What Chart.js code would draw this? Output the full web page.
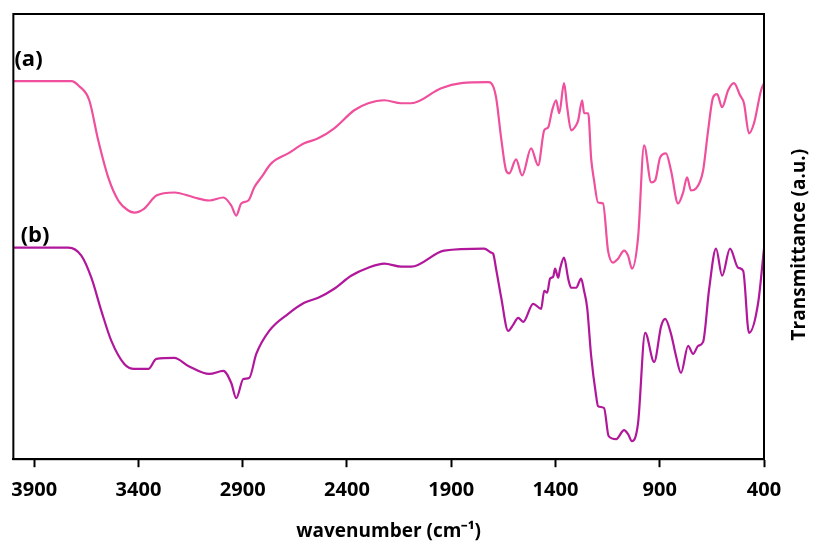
<!DOCTYPE html>
<html>
<head>
<meta charset="utf-8">
<script src="https://cdn.jsdelivr.net/npm/chart.js@4/dist/chart.umd.min.js"></script>
<style>
  html, body { margin: 0; padding: 0; background: #fff; }
  canvas { display: block; }
</style>
</head>
<body>
<canvas id="canvas" width="816" height="546"></canvas>
<script>
// FTIR spectra, wavenumber (cm-1) vs transmittance (a.u.)
const xTicks = [3900, 3400, 2900, 2400, 1900, 1400, 900, 400];

// spectrum (a)
const waveA = [4000, 3722, 3684, 3636, 3593, 3545, 3497, 3449, 3420, 3372, 3314, 3228, 3132, 3060, 2993, 2955, 2931, 2907, 2873, 2845, 2811, 2763, 2682, 2605, 2538, 2461, 2365, 2298, 2221, 2140, 2092, 1948, 1852, 1723, 1708, 1685, 1661, 1637, 1622, 1589, 1560, 1517, 1483, 1454, 1435, 1416, 1397, 1382, 1359, 1344, 1325, 1301, 1291, 1272, 1263, 1243, 1229, 1215, 1196, 1172, 1148, 1124, 1100, 1071, 1052, 1033, 1004, 975, 941, 922, 898, 870, 846, 812, 788, 769, 750, 726, 692, 668, 644, 625, 601, 572, 544, 515, 496, 472, 448, 414, 400];
const transA = [377, 377, 372, 358, 318, 281, 258, 248, 246, 250, 263, 266, 261, 258, 261, 253, 243, 255, 258, 271, 281, 295, 305, 315, 320, 330, 348, 355, 358, 355, 355, 370, 375, 376, 375, 361, 321, 288, 285, 299, 283, 310, 293, 328, 331, 348, 358, 345, 375, 351, 328, 333, 338, 358, 345, 345, 300, 278, 256, 255, 208, 196, 200, 208, 203, 190, 221, 313, 276, 278, 301, 305, 288, 255, 266, 281, 268, 270, 288, 328, 361, 364, 351, 368, 375, 363, 355, 325, 335, 368, 375];

// spectrum (b)
const waveB = [4000, 3736, 3674, 3626, 3578, 3530, 3468, 3420, 3353, 3314, 3228, 3161, 3060, 2993, 2955, 2931, 2897, 2869, 2835, 2773, 2682, 2605, 2538, 2461, 2380, 2298, 2221, 2140, 2092, 1934, 1742, 1708, 1699, 1685, 1661, 1627, 1603, 1579, 1555, 1507, 1469, 1454, 1440, 1426, 1411, 1402, 1387, 1378, 1359, 1339, 1325, 1301, 1277, 1263, 1248, 1229, 1205, 1196, 1167, 1145, 1109, 1071, 1052, 1033, 1004, 970, 927, 893, 874, 846, 822, 798, 764, 740, 716, 692, 663, 630, 601, 563, 524, 500, 472, 428, 400];
const transB = [211, 211, 203, 181, 148, 118, 95, 90, 90, 100, 101, 93, 85, 88, 76, 61, 80, 81, 105, 128, 145, 156, 161, 170, 183, 191, 195, 192, 192, 208, 210, 206, 205, 190, 162, 128, 134, 141, 137, 155, 150, 168, 166, 180, 182, 190, 181, 190, 201, 180, 171, 171, 180, 168, 151, 103, 63, 53, 51, 23, 20, 29, 25, 18, 36, 126, 97, 133, 140, 125, 103, 86, 113, 105, 113, 117, 170, 210, 183, 210, 191, 188, 126, 156, 210];

const seriesLabels = ['(a)', '(b)'];
const labelAt = [[3995, 398], [3965, 223]];

function toPoints(xs, ys) {
  return xs.map(function(x, i){ return { x: x, y: ys[i] }; });
}

const frame = {
  id: 'frame',
  afterDatasetsDraw: function(chart) {
    const ctx = chart.ctx;
    const a = chart.chartArea;
    ctx.save();
    ctx.strokeStyle = '#000';
    ctx.lineWidth = 2;
    ctx.strokeRect(a.left, a.top, a.right - a.left, a.bottom - a.top);
    // curve labels
    ctx.fillStyle = '#000';
    ctx.font = 'bold 22px "Open Sans", sans-serif';
    ctx.textBaseline = 'middle';
    ctx.textAlign = 'left';
    seriesLabels.forEach(function(t, i){
      const px = chart.scales.x.getPixelForValue(labelAt[i][0]);
      const py = chart.scales.y.getPixelForValue(labelAt[i][1]);
      ctx.fillText(t, px, py);
    });
    // right side axis title, reading bottom to top
    ctx.font = 'bold 19px "Open Sans", sans-serif';
    ctx.textAlign = 'center';
    ctx.translate(800, (a.top + a.bottom) / 2 + 8);
    ctx.rotate(-Math.PI / 2);
    ctx.fillText('Transmittance (a.u.)', 0, 0);
    ctx.restore();
  }
};

new Chart(document.getElementById('canvas'), {
  type: 'line',
  data: {
    datasets: [
      {
        label: '(a)',
        data: toPoints(waveA, transA),
        borderColor: '#EF4F9C',
        borderWidth: 2.2,
        pointRadius: 0,
        cubicInterpolationMode: 'monotone',
        fill: false
      },
      {
        label: '(b)',
        data: toPoints(waveB, transB),
        borderColor: '#B0179A',
        borderWidth: 2.2,
        pointRadius: 0,
        cubicInterpolationMode: 'monotone',
        fill: false
      }
    ]
  },
  plugins: [frame],
  options: {
    responsive: false,
    animation: false,
    devicePixelRatio: 1,
    layout: { padding: { left: 12, top: 14, right: 52, bottom: 0 } },
    plugins: {
      legend: { display: false },
      tooltip: { enabled: false }
    },
    scales: {
      x: {
        type: 'linear',
        reverse: true,
        min: 400,
        max: 4000,
        afterBuildTicks: function(scale) {
          scale.ticks = xTicks.map(function(v){ return { value: v }; });
        },
        grid: {
          drawOnChartArea: false,
          drawTicks: true,
          tickLength: 8,
          tickColor: '#000',
          tickWidth: 2
        },
        border: { color: '#000', width: 2 },
        ticks: {
          color: '#000',
          padding: 11,
          maxRotation: 0,
          autoSkip: false,
          callback: function(v){ return String(v); },
          font: { family: '"Open Sans", sans-serif', size: 20, weight: 'bold' }
        },
        title: {
          display: true,
          text: 'wavenumber (cm⁻¹)',
          color: '#000',
          padding: { top: 7, bottom: 3 },
          font: { family: '"Open Sans", sans-serif', size: 19, weight: 'bold' }
        }
      },
      y: {
        display: false,
        min: 0,
        max: 444
      }
    }
  }
});
</script>
</body>
</html>
